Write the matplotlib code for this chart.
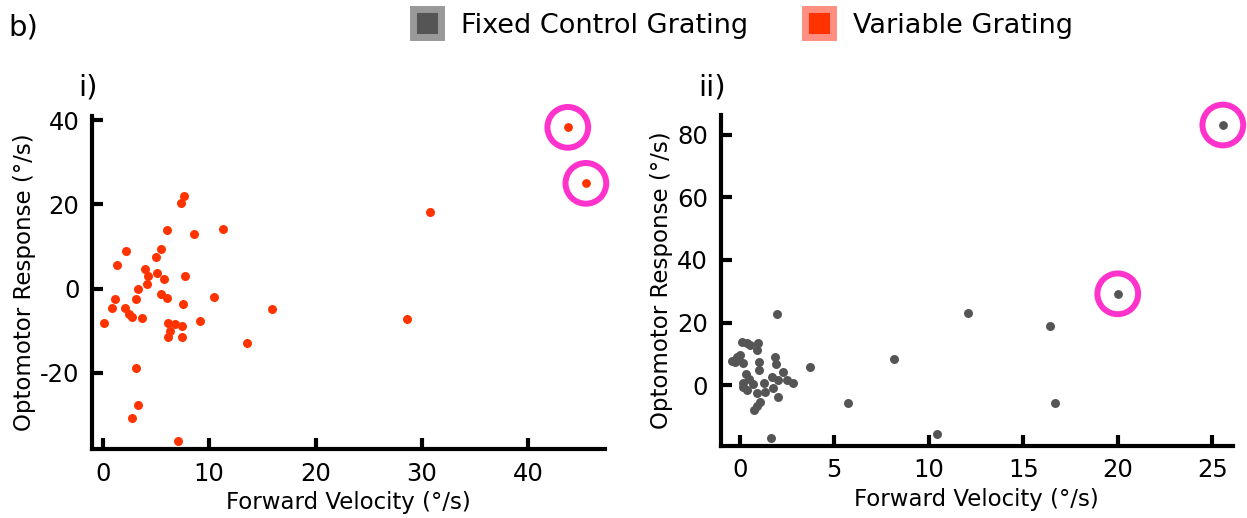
import matplotlib.pyplot as plt
from matplotlib.lines import Line2D

plt.rcParams['axes.unicode_minus'] = False

# i) variable grating: forward velocity vs optomotor response
var_x = [7.65, 7.4, 6.08, 8.56, 2.2, 5.52, 1.33, 5.0, 3.93, 4.3, 5.15, 5.77, 7.7, 4.18,
         3.3, 1.14, 3.17, 5.52, 6.08, 10.5, 0.9, 2.08, 7.56, 2.46, 2.74, 3.68, 0.17, 9.13,
         6.18, 6.84, 7.46, 6.37, 6.18, 7.46, 3.11, 3.36, 2.71, 7.06, 15.95, 13.6, 30.8,
         28.6, 11.35]
var_y = [22.1, 20.3, 14.0, 13.0, 8.9, 9.4, 5.7, 7.5, 4.75, 3.1, 3.6, 2.3, 3.0, 1.1,
         -0.1, -2.4, -2.4, -1.4, -2.3, -2.0, -4.6, -4.6, -3.6, -6.0, -6.8, -6.9, -8.2, -7.6,
         -8.2, -8.5, -9.0, -10.0, -11.5, -11.5, -18.8, -27.7, -30.7, -36.1, -4.8, -13.0, 18.2,
         -7.3, 14.1]
var_out_x = [43.7, 45.4]
var_out_y = [38.3, 25.0]

# ii) fixed control grating
fix_x = [1.95, 0.1, 0.37, 0.54, 0.98, 0.93, -0.16, 0.01, -0.43, -0.25, 0.19, 1.03, 1.86,
         1.92, 1.03, 2.3, 0.33, 0.5, 0.19, 0.19, 0.68, 1.28, 1.69, 2.0, 2.48, 2.8, 1.74,
         1.33, 0.89, 2.04, 0.37, 1.07, 0.89, 0.75, 1.65, 3.72, 12.1, 16.4, 8.17, 5.73,
         16.7, 10.45]
fix_y = [22.8, 13.9, 13.4, 12.9, 13.6, 11.3, 9.1, 9.7, 7.9, 7.5, 7.0, 7.5, 9.1, 6.8,
         4.9, 4.3, 3.6, 1.9, 0.6, -0.6, 0.4, 0.8, 2.5, 1.7, 1.7, 0.6, -1.0, -2.0, -2.4,
         -3.6, -1.5, -5.2, -6.6, -7.9, -16.9, 5.9, 23.1, 18.9, 8.4, -5.6, -5.6, -15.5]
fix_out_x = [25.56, 20.0]
fix_out_y = [83.1, 29.2]

var_ticks_x = [0, 10, 20, 30, 40]
var_ticks_y = [-20, 0, 20, 40]
fix_ticks_x = [0, 5, 10, 15, 20, 25]
fix_ticks_y = [0, 20, 40, 60, 80]

red = '#FF3300'
gray = '#555555'
ring = '#FF33CC'

fig = plt.figure(figsize=(12.47, 5.18), dpi=100)
ax1 = fig.add_axes([0.0738, 0.1332, 0.4114, 0.6429])
ax2 = fig.add_axes([0.5778, 0.139, 0.411, 0.639])


def style(ax, xt, yt, xl, yl):
    for s in ['top', 'right']:
        ax.spines[s].set_visible(False)
    for s in ['left', 'bottom']:
        ax.spines[s].set_linewidth(3)
    ax.set_xticks(xt)
    ax.set_yticks(yt)
    ax.set_xlim(xl)
    ax.set_ylim(yl)
    ax.tick_params(direction='in', length=8, width=3, labelsize=17.5, pad=9)
    ax.set_xlabel('Forward Velocity (°/s)', fontsize=16.5, labelpad=4)
    ax.set_ylabel('Optomotor Response (°/s)', fontsize=16.5, labelpad=3)


ax1.scatter(var_x, var_y, s=42, color=red, lw=0, clip_on=False, zorder=3)
ax1.scatter(var_out_x, var_out_y, s=40, color=red, lw=0, clip_on=False, zorder=3)
ax1.scatter(var_out_x, var_out_y, s=860, facecolors='none', edgecolors=ring,
            linewidths=4.3, clip_on=False, zorder=4)
style(ax1, var_ticks_x, var_ticks_y, (-1, 47.2), (-38.1, 41))

ax2.scatter(fix_x, fix_y, s=42, color=gray, lw=0, clip_on=False, zorder=3)
ax2.scatter(fix_out_x, fix_out_y, s=40, color=gray, lw=0, clip_on=False, zorder=3)
ax2.scatter(fix_out_x, fix_out_y, s=860, facecolors='none', edgecolors=ring,
            linewidths=4.3, clip_on=False, zorder=4)
style(ax2, fix_ticks_x, fix_ticks_y, (-1.02, 26.1), (-19.4, 86.3))

fig.text(0.007, 0.947, 'b)', fontsize=21, va='center')
fig.text(0.063, 0.832, 'i)', fontsize=21, va='center')
fig.text(0.560, 0.832, 'ii)', fontsize=21, va='center')

handles = [
    Line2D([], [], ls='none', marker='s', ms=20, mew=5, mfc=gray, mec='#999999'),
    Line2D([], [], ls='none', marker='s', ms=20, mew=5, mfc=red, mec='#FF8F80'),
]
fig.legend(handles, ['Fixed Control Grating', 'Variable Grating'], loc='center',
           bbox_to_anchor=(0.5905, 0.950), ncol=2, frameon=False, fontsize=19.5,
           handletextpad=0.25, columnspacing=1.6)

fig.savefig('out.png', dpi=100)
